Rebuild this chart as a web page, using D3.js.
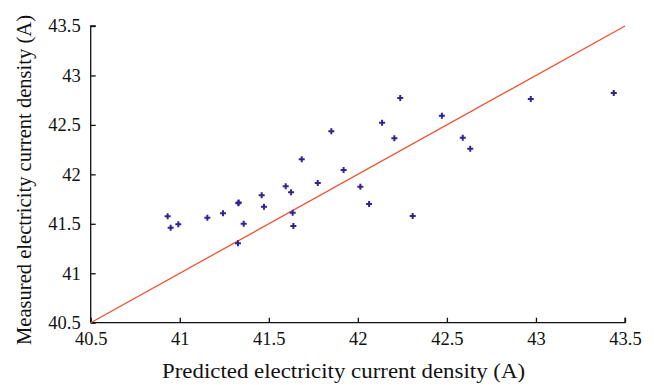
<!DOCTYPE html>
<html>
<head>
<meta charset="utf-8">
<script src="https://cdn.jsdelivr.net/npm/d3@7/dist/d3.min.js"></script>
<style>
  body { margin: 0; background: #fff; }
  svg text { font-family: "Liberation Serif", "DejaVu Serif", serif; fill: #111; }
</style>
</head>
<body>
<svg id="chart" width="654" height="385"></svg>
<script>
// predicted (x) vs measured (y)
const predicted = [40.932, 40.949, 40.992, 41.155, 41.243, 41.329, 41.331, 41.359, 41.327, 41.460,
                   41.473, 41.595, 41.625, 41.634, 41.638, 41.775, 41.685, 41.851, 41.920, 42.014,
                   42.063, 42.308, 42.136, 42.205, 42.238, 42.472, 42.589, 42.631, 42.971, 43.437]
const measured  = [41.576, 41.461, 41.495, 41.562, 41.606, 41.707, 41.716, 41.501, 41.303, 41.788,
                   41.673, 41.879, 41.818, 41.612, 41.478, 41.913, 42.152, 42.435, 42.044, 41.875,
                   41.700, 41.579, 42.522, 42.365, 42.772, 42.593, 42.371, 42.259, 42.762, 42.823]
const ticks = [40.5, 41, 41.5, 42, 42.5, 43, 43.5]
const fitLine = [40.5, 43.5]

const svg = d3.select("#chart")
const margin = { left: 90.7, right: 29, top: 26, bottom: 62.3 }
const W = 654, H = 385
const serif = '"Liberation Serif", "DejaVu Serif", serif'

const x = d3.scaleLinear().domain([40.5, 43.5]).range([margin.left, W - margin.right])
const y = d3.scaleLinear().domain([40.5, 43.5]).range([H - margin.bottom, margin.top])

// x axis, ticks pointing inward
const xAxis = svg.append("g")
    .attr("transform", `translate(0,${y(40.5)})`)
    .call(d3.axisBottom(x).tickValues(ticks).tickSize(-5).tickPadding(9).tickFormat(d3.format("")))
xAxis.select(".domain").attr("d", `M${x(40.5)},0H${x(43.5)}V-5`)
const yAxis = svg.append("g")
    .attr("transform", `translate(${x(40.5)},0)`)
    .call(d3.axisLeft(y).tickValues(ticks).tickSize(-5).tickPadding(10).tickFormat(d3.format("")))
yAxis.select(".domain").attr("d", `M5,${y(43.5)}H0V${y(40.5)}`)

svg.selectAll("g").attr("font-family", serif).attr("font-size", 18.5)
svg.selectAll(".domain, .tick line").attr("stroke", "#111").attr("stroke-width", 1.3)
svg.selectAll(".tick text").attr("fill", "#111").style("font-family", serif)

// y = x line
svg.append("line")
    .attr("x1", x(fitLine[0])).attr("y1", y(fitLine[0]))
    .attr("x2", x(fitLine[1])).attr("y2", y(fitLine[1]))
    .attr("stroke", "#f2502e").attr("stroke-width", 1.3)

// points
const cross = d3.symbol().type(d3.symbolCross).size(20)
svg.selectAll(".pt")
    .data(predicted.map((p, i) => [p, measured[i]]))
    .enter()
    .append("path")
    .attr("class", "pt")
    .attr("d", cross)
    .attr("transform", d => `translate(${x(d[0])},${y(d[1])})`)
    .attr("fill", "#2f2590")

// titles
svg.append("text")
    .attr("x", 343.5).attr("y", 378)
    .attr("text-anchor", "middle").attr("font-size", 21)
    .attr("textLength", 363).attr("lengthAdjust", "spacingAndGlyphs")
    .text("Predicted electricity current density (A)")
svg.append("text")
    .attr("transform", `translate(31,180) rotate(-90)`)
    .attr("text-anchor", "middle").attr("font-size", 21)
    .attr("textLength", 330).attr("lengthAdjust", "spacingAndGlyphs")
    .text("Measured electricity current density (A)")
</script>
</body>
</html>
